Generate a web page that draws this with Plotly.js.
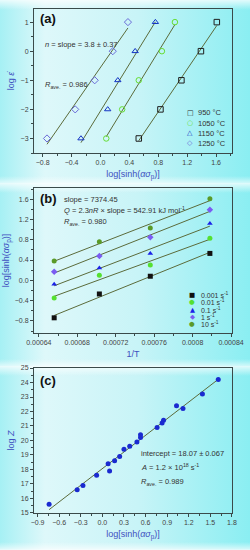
<!DOCTYPE html>
<html>
<head>
<meta charset="utf-8">
<script src="https://cdn.plot.ly/plotly-3.0.1.min.js"></script>
<style>
html,body{margin:0;padding:0;}
#chart{width:250px;height:550px;
background-image:
 linear-gradient(to bottom, rgba(255,255,255,0.75) 0px, rgba(255,255,255,0) 10px, rgba(255,255,255,0) 176px, rgba(255,255,255,0.6) 183px),
 linear-gradient(to right, #a6f0f4 0%, #def8fa 18%, #c8f4f7 55%, #8aeef2 100%);
background-size:250px 183px, 250px 183px;
background-repeat:repeat-y, repeat-y;}
</style>
</head>
<body>
<div id="chart"></div>
<script>
// ---------- Panel (a): log strain rate vs log[sinh(alpha sigma_p)] ----------
const tempLabels = ["950 °C", "1050 °C", "1150 °C", "1250 °C"];
const logRate = [-3, -2, -1, 0, 1];
const sinh950  = [0.53, 0.83, 1.12, 1.39, 1.61];
const sinh1050 = [0.08, 0.30, 0.53, 0.85, 1.03];
const sinh1150 = [-0.27, 0.10, 0.24, 0.48, 0.76];
const sinh1250 = [-0.74, -0.35, -0.08, 0.17, 0.38];

// ---------- Panel (b): log[sinh] vs 1/T ----------
const invT = [0.000656, 0.000703, 0.000756, 0.000818];
const rateLabels = ["0.001 s<sup>-1</sup>", "0.01 s<sup>-1</sup>", "0.1 s<sup>-1</sup>", "1 s<sup>-1</sup>", "10 s<sup>-1</sup>"];
const r0001 = [-0.74, -0.27, 0.08, 0.53];
const r001  = [-0.35, 0.10, 0.30, 0.83];
const r01   = [-0.08, 0.24, 0.53, 1.12];
const r1    = [0.17, 0.48, 0.85, 1.39];
const r10   = [0.38, 0.76, 1.03, 1.61];
const invTTicks = [0.00064, 0.00068, 0.00072, 0.00076, 0.0008, 0.00084];
const invTTickText = ["0.00064", "0.00068", "0.00072", "0.00076", "0.0008", "0.00084"];

// ---------- Panel (c): log Z vs log[sinh] ----------
const cX = [-0.74, -0.35, -0.08, 0.17, 0.38, -0.27, 0.10, 0.24, 0.48, 0.76, 0.08, 0.30, 0.53, 0.85, 1.03, 0.53, 0.83, 1.12, 1.39, 1.61];
const cZ = [15.6, 16.6, 17.6, 18.6, 19.6, 16.9, 17.9, 18.9, 19.9, 20.9, 18.4, 19.4, 20.4, 21.4, 22.4, 20.2, 21.2, 22.2, 23.2, 24.2];

function fit(xs, ys) {
  const n = xs.length;
  const mx = xs.reduce((a, b) => a + b, 0) / n;
  const my = ys.reduce((a, b) => a + b, 0) / n;
  let sxx = 0, sxy = 0;
  for (let i = 0; i < n; i++) { sxx += (xs[i] - mx) ** 2; sxy += (xs[i] - mx) * (ys[i] - my); }
  const k = sxy / sxx, b = my - k * mx;
  const x0 = Math.min(...xs), x1 = Math.max(...xs);
  return {x: [x0, x1], y: [k * x0 + b, k * x1 + b]};
}

const lineCol = "#5b6b3a";
const traces = [];

// panel a
const aSeries = [sinh950, sinh1050, sinh1150, sinh1250];
const aSym = ["square-open", "circle-open", "triangle-up-open", "diamond-open"];
const aCol = ["#1e1e1e", "#66dd33", "#1434c4", "#6a6ad8"];
const aGlyph = ["□", "○", "△", "◇"];
aSeries.forEach((s, i) => {
  const f = fit(s, logRate);
  traces.push({x: f.x, y: f.y, mode: "lines", line: {color: lineCol, width: 1}, xaxis: "x", yaxis: "y", showlegend: false, hoverinfo: "skip"});
  traces.push({x: s, y: logRate, mode: "markers", marker: {symbol: aSym[i], color: aCol[i], size: 5.5, line: {width: 1, color: aCol[i]}}, xaxis: "x", yaxis: "y", showlegend: false});
});

// panel b
const bSeries = [r0001, r001, r01, r1, r10];
const bSym = ["square", "circle", "triangle-up", "diamond", "circle"];
const bCol = ["#111111", "#55e030", "#1a22e8", "#7a5cf2", "#5a9a28"];
const bGlyph = ["■", "●", "▲", "◆", "●"];
bSeries.forEach((s, i) => {
  const f = fit(invT, s);
  traces.push({x: f.x, y: f.y, mode: "lines", line: {color: lineCol, width: 1}, xaxis: "x2", yaxis: "y2", showlegend: false, hoverinfo: "skip"});
  traces.push({x: invT, y: s, mode: "markers", marker: {symbol: bSym[i], color: bCol[i], size: 5}, xaxis: "x2", yaxis: "y2", showlegend: false});
});

// panel c
const fc = fit(cX, cZ);
traces.push({x: fc.x, y: fc.y, mode: "lines", line: {color: lineCol, width: 1}, xaxis: "x3", yaxis: "y3", showlegend: false, hoverinfo: "skip"});
traces.push({x: cX, y: cZ, mode: "markers", marker: {symbol: "circle", color: "#1a2ad0", size: 5}, xaxis: "x3", yaxis: "y3", showlegend: false});

const fam = "Liberation Sans, Arial, sans-serif";
const tickFont = {family: fam, size: 7, color: "#444"};
const titleFont = {family: fam, size: 9, color: "#3f4fc0"};
function ax(extra) {
  return Object.assign({
    showline: true, mirror: true, linecolor: "#3a4a4a", linewidth: 1,
    ticks: "outside", ticklen: 3, tickcolor: "#3a4a4a", tickwidth: 1,
    showgrid: false, zeroline: false, tickfont: tickFont
  }, extra);
}
const xTitle = "log[sinh(<i>ασ</i><sub>p</sub>)]";

const txtFont = {family: fam, size: 7.5, color: "#333"};
const annots = [];
function note(xref, yref, x, y, text, font, xanchor) {
  annots.push({xref: xref, yref: yref, x: x, y: y, text: text, showarrow: false, align: "left",
    xanchor: xanchor || "left", yanchor: "middle", font: font || txtFont});
}
const panelFont = {family: fam, size: 13, color: "#111"};
note("x domain", "y domain", 0.02, 0.935, "<b>(a)</b>", panelFont);
note("x domain", "y domain", 0.045, 0.757, "<i>n</i> = slope = 3.8 ± 0.37");
note("x domain", "y domain", 0.045, 0.472, "<i>R</i><sub>ave.</sub> = 0.986");
tempLabels.forEach((t, i) => {
  const yy = 0.278 - i * 0.07;
  note("x domain", "y domain", 0.788, yy, aGlyph[i], {family: "DejaVu Sans", size: 7, color: aCol[i]}, "center");
  note("x domain", "y domain", 0.82, yy, t);
});

note("x2 domain", "y2 domain", 0.02, 0.93, "<b>(b)</b>", panelFont);
note("x2 domain", "y2 domain", 0.141, 0.924, "slope = 7374.45");
note("x2 domain", "y2 domain", 0.141, 0.848, "<i>Q</i> = 2.3<i>nR</i> × slope = 542.91 kJ mol<sup>-1</sup>");
note("x2 domain", "y2 domain", 0.141, 0.763, "<i>R</i><sub>ave.</sub> = 0.980");
rateLabels.forEach((t, i) => {
  const yy = 0.262 - i * 0.05;
  note("x2 domain", "y2 domain", 0.798, yy, bGlyph[i], {family: "DejaVu Sans", size: 6.5, color: bCol[i]}, "center");
  note("x2 domain", "y2 domain", 0.835, yy, t, {family: fam, size: 7, color: "#333"});
});

note("x3 domain", "y3 domain", 0.02, 0.912, "<b>(c)</b>", panelFont);
note("x3 domain", "y3 domain", 0.53, 0.407, "intercept = 18.07 ± 0.067");
note("x3 domain", "y3 domain", 0.53, 0.315, "<i>A</i> = 1.2 × 10<sup>18</sup> s<sup>-1</sup>");
note("x3 domain", "y3 domain", 0.53, 0.216, "<i>R</i><sub>ave.</sub> = 0.989");

const minorOpt = (d) => ({dtick: d, ticklen: 2, ticks: "outside", tickcolor: "#3a4a4a"});
const layout = {
  width: 250, height: 550,
  margin: {l: 34, r: 18, t: 0, b: 0},
  paper_bgcolor: "rgba(0,0,0,0)", plot_bgcolor: "rgba(0,0,0,0)",
  showlegend: false,
  xaxis: ax({domain: [0, 1], anchor: "y", range: [-0.92, 1.82], tick0: -0.8, dtick: 0.4, tickformat: ".1f",
    minor: minorOpt(0.2), title: {text: xTitle, font: titleFont, standoff: 5}}),
  yaxis: ax({domain: [0.7218, 0.9836], anchor: "x", range: [-3.5, 1.45], tick0: -3, dtick: 1,
    minor: minorOpt(0.5), title: {text: "log <i>ε̇</i>", font: titleFont, standoff: 4}}),
  xaxis2: ax({domain: [0, 1], anchor: "y2", range: [0.000635, 0.000841], tickmode: "array", tickvals: invTTicks, ticktext: invTTickText,
    minor: {tickvals: [0.00066, 0.0007, 0.00074, 0.00078, 0.00082], ticklen: 2, ticks: "outside", tickcolor: "#3a4a4a"},
    title: {text: "1/T", font: titleFont, standoff: 5}}),
  yaxis2: ax({domain: [0.3945, 0.6582], anchor: "x2", range: [-1.04, 1.82], tick0: -0.8, dtick: 0.4, tickformat: ".1f",
    minor: minorOpt(0.2), title: {text: xTitle, font: titleFont, standoff: 3}}),
  xaxis3: ax({domain: [0, 1], anchor: "y3", range: [-0.95, 1.801], tick0: -0.9, dtick: 0.3, tickformat: ".1f",
    minor: minorOpt(0.15), title: {text: xTitle, font: titleFont, standoff: 5}}),
  yaxis3: ax({domain: [0.0673, 0.3309], anchor: "x3", range: [15, 25], tick0: 15, dtick: 1,
    minor: minorOpt(0.5), title: {text: "log <i>Z</i>", font: titleFont, standoff: 4}}),
  annotations: annots
};

Plotly.newPlot("chart", traces, layout, {displayModeBar: false, staticPlot: true});
</script>
</body>
</html>
